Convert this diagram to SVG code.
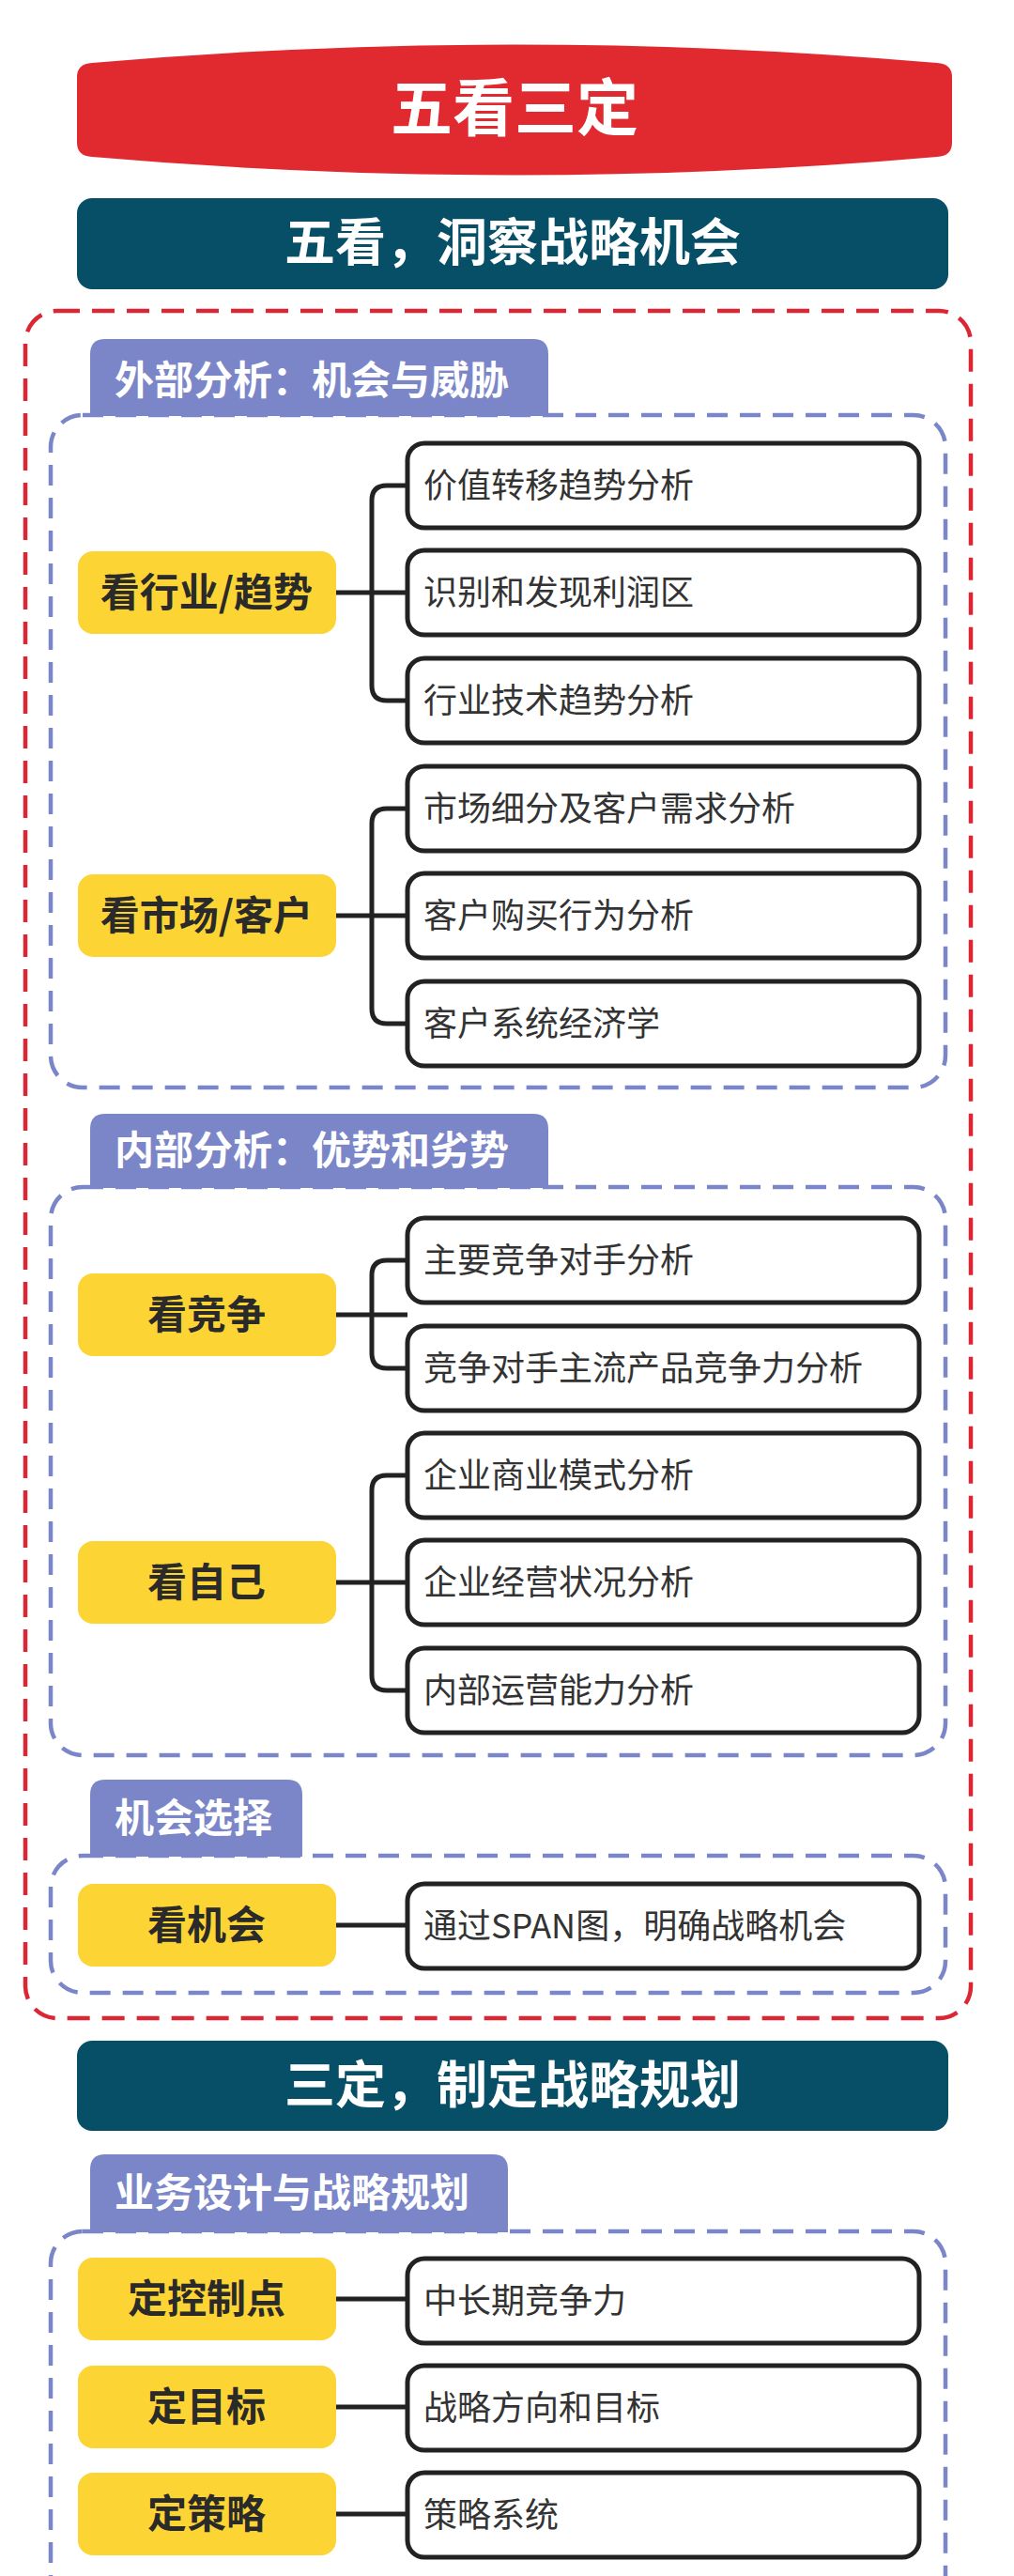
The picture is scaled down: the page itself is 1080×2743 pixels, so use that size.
<svg xmlns="http://www.w3.org/2000/svg" width="1080" height="2743" viewBox="0 0 1080 2743">
<style>
text{font-family:"Noto Sans CJK SC","Noto Sans",sans-serif}
.ban{fill:#064F66}
.bt{fill:#fff;font-weight:700;font-size:54px;text-anchor:middle}
.tab{fill:#7B86C8}
.tt{fill:#fff;font-weight:700;font-size:42px}
.red{fill:none;stroke:#DC2633;stroke-width:4.5;stroke-dasharray:24 13}
.blue{fill:none;stroke:#7B86C8;stroke-width:4.5;stroke-dasharray:22 13}
.y{fill:#FCD434}
.yt{fill:#2A2A2A;font-weight:700;font-size:42px;text-anchor:middle}
.b{fill:#fff;stroke:#222;stroke-width:5}
.bx{fill:#333;font-size:36px}
.c{fill:none;stroke:#222;stroke-width:5}
</style>
<g id="title">
<path d="M82 82 Q82 68 98 67 Q548 28 998 67 Q1014 68 1014 82 L1014 152 Q1014 166 998 167 Q548 206 98 167 Q82 166 82 152 Z" fill="#E12A30"/>
<text x="548" y="139" fill="#fff" font-size="66" font-weight="700" text-anchor="middle">五看三定</text>
</g>
<g id="banner1"><rect class="ban" x="82" y="211" width="928" height="97" rx="16"/><text class="bt" x="546" y="278">五看，洞察战略机会</text></g>
<rect class="red" x="27" y="331" width="1007" height="1818" rx="34"/>
<rect class="blue" x="54" y="442" width="953" height="716" rx="34"/>
<rect class="blue" x="54" y="1264" width="953" height="605" rx="34"/>
<rect class="blue" x="54" y="1976" width="953" height="146" rx="34"/>
<rect class="blue" x="54" y="2376" width="953" height="400" rx="34"/>
<g id="tab1"><path class="tab" d="M96 443 V377 Q96 361 112 361 H568 Q584 361 584 377 V443 Z"/><text class="tt" x="122" y="420">外部分析：机会与威胁</text></g>
<g id="tab2"><path class="tab" d="M96 1265 V1202 Q96 1186 112 1186 H568 Q584 1186 584 1202 V1265 Z"/><text class="tt" x="122" y="1240">内部分析：优势和劣势</text></g>
<g id="tab3"><path class="tab" d="M96 1977 V1911 Q96 1895 112 1895 H306 Q322 1895 322 1911 V1977 Z"/><text class="tt" x="122" y="1951">机会选择</text></g>
<g id="tab4"><path class="tab" d="M96 2377 V2310 Q96 2294 112 2294 H525 Q541 2294 541 2310 V2377 Z"/><text class="tt" x="122" y="2350">业务设计与战略规划</text></g>
<g id="connectors">
<path class="c" d="M434 517 H412 Q396 517 396 533 V730 Q396 746 412 746 H434 M358 631 H434"/>
<path class="c" d="M434 861 H412 Q396 861 396 877 V1074 Q396 1090 412 1090 H434 M358 975 H434"/>
<path class="c" d="M434 1342 H412 Q396 1342 396 1358 V1441 Q396 1457 412 1457 H434 M358 1400 H434"/>
<path class="c" d="M434 1571 H412 Q396 1571 396 1587 V1784 Q396 1800 412 1800 H434 M358 1685 H434"/>
<path class="c" d="M358 2050 H434 M358 2448 H434 M358 2563 H434 M358 2677 H434"/>
</g>
<g id="n1"><rect class="y" x="83" y="587" width="275" height="88" rx="16"/><text class="yt" x="220" y="646">看行业/趋势</text></g>
<g id="n2"><rect class="y" x="83" y="931" width="275" height="88" rx="16"/><text class="yt" x="220" y="990">看市场/客户</text></g>
<g id="n3"><rect class="y" x="83" y="1356" width="275" height="88" rx="16"/><text class="yt" x="220" y="1415">看竞争</text></g>
<g id="n4"><rect class="y" x="83" y="1641" width="275" height="88" rx="16"/><text class="yt" x="220" y="1700">看自己</text></g>
<g id="n5"><rect class="y" x="83" y="2006" width="275" height="88" rx="16"/><text class="yt" x="220" y="2065">看机会</text></g>
<g id="n6"><rect class="y" x="83" y="2404" width="275" height="88" rx="16"/><text class="yt" x="220" y="2463">定控制点</text></g>
<g id="n7"><rect class="y" x="83" y="2519" width="275" height="88" rx="16"/><text class="yt" x="220" y="2578">定目标</text></g>
<g id="n8"><rect class="y" x="83" y="2633" width="275" height="88" rx="16"/><text class="yt" x="220" y="2692">定策略</text></g>
<g id="b1"><rect class="b" x="434" y="472" width="545" height="90" rx="18"/><text class="bx" x="451" y="530">价值转移趋势分析</text></g>
<g id="b2"><rect class="b" x="434" y="586" width="545" height="90" rx="18"/><text class="bx" x="451" y="644">识别和发现利润区</text></g>
<g id="b3"><rect class="b" x="434" y="701" width="545" height="90" rx="18"/><text class="bx" x="451" y="759">行业技术趋势分析</text></g>
<g id="b4"><rect class="b" x="434" y="816" width="545" height="90" rx="18"/><text class="bx" x="451" y="874">市场细分及客户需求分析</text></g>
<g id="b5"><rect class="b" x="434" y="930" width="545" height="90" rx="18"/><text class="bx" x="451" y="988">客户购买行为分析</text></g>
<g id="b6"><rect class="b" x="434" y="1045" width="545" height="90" rx="18"/><text class="bx" x="451" y="1103">客户系统经济学</text></g>
<g id="b7"><rect class="b" x="434" y="1297" width="545" height="90" rx="18"/><text class="bx" x="451" y="1355">主要竞争对手分析</text></g>
<g id="b8"><rect class="b" x="434" y="1412" width="545" height="90" rx="18"/><text class="bx" x="451" y="1470">竞争对手主流产品竞争力分析</text></g>
<g id="b9"><rect class="b" x="434" y="1526" width="545" height="90" rx="18"/><text class="bx" x="451" y="1584">企业商业模式分析</text></g>
<g id="b10"><rect class="b" x="434" y="1640" width="545" height="90" rx="18"/><text class="bx" x="451" y="1698">企业经营状况分析</text></g>
<g id="b11"><rect class="b" x="434" y="1755" width="545" height="90" rx="18"/><text class="bx" x="451" y="1813">内部运营能力分析</text></g>
<g id="b12"><rect class="b" x="434" y="2006" width="545" height="90" rx="18"/><text class="bx" x="451" y="2064">通过SPAN图，明确战略机会</text></g>
<g id="banner2"><rect class="ban" x="82" y="2173" width="928" height="96" rx="16"/><text class="bt" x="546" y="2240">三定，制定战略规划</text></g>
<g id="b13"><rect class="b" x="434" y="2405" width="545" height="90" rx="18"/><text class="bx" x="451" y="2463">中长期竞争力</text></g>
<g id="b14"><rect class="b" x="434" y="2519" width="545" height="90" rx="18"/><text class="bx" x="451" y="2577">战略方向和目标</text></g>
<g id="b15"><rect class="b" x="434" y="2633" width="545" height="90" rx="18"/><text class="bx" x="451" y="2691">策略系统</text></g>
</svg>
